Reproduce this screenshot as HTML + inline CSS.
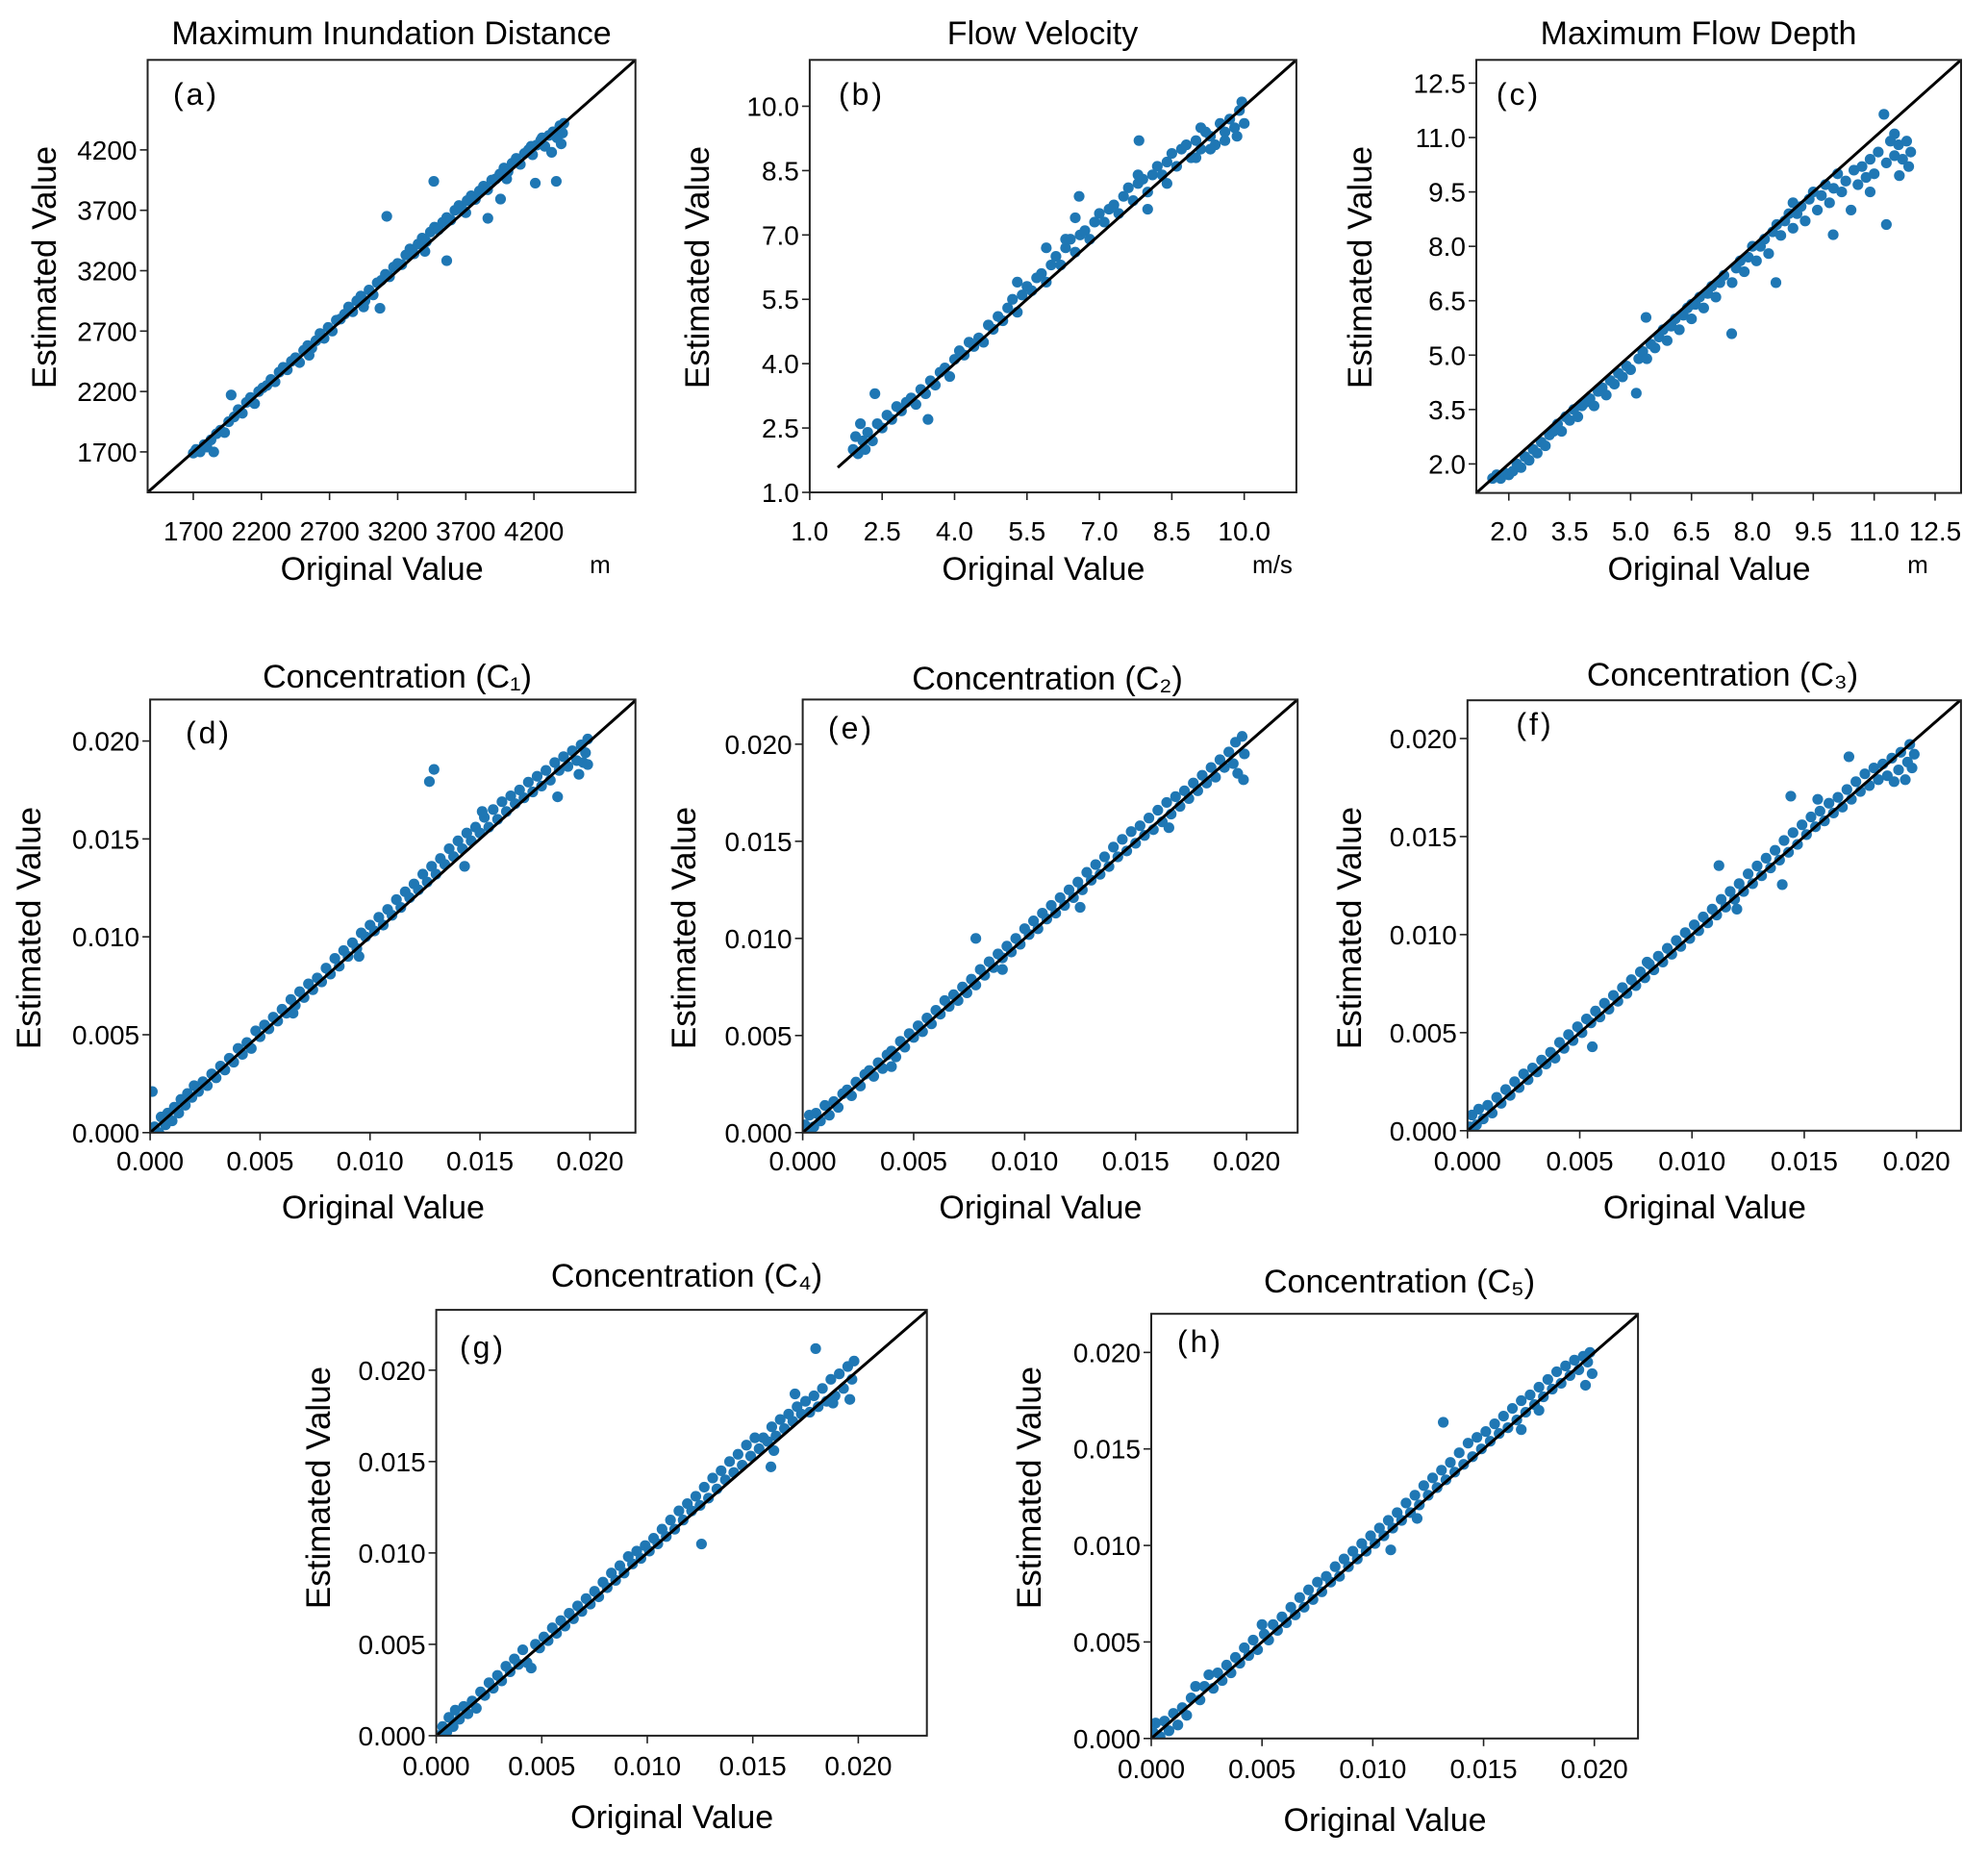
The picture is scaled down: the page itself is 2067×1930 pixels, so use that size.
<!DOCTYPE html>
<html><head><meta charset="utf-8"><style>
html,body{margin:0;padding:0;background:#fff}
svg{display:block;font-family:"Liberation Sans",Arial,sans-serif}
</style></head><body>
<svg id="fig" width="2067" height="1930" viewBox="0 0 2067 1930" xmlns="http://www.w3.org/2000/svg"></svg>
<script>
// ---- data ----
const ticksA=[1700,2200,2700,3200,3700,4200];
const ticksB=[1.0,2.5,4.0,5.5,7.0,8.5,10.0];
const ticksC=[2.0,3.5,5.0,6.5,8.0,9.5,11.0,12.5];
const ticksConc=[0,5,10,15,20];
const tickLabelsConc=["0.000","0.005","0.010","0.015","0.020"];
const ptsA=[[1700,1690],[1720,1720],[1750,1700],[1780,1760],[1800,1740],[1830,1800],[1850,1700],[1870,1850],[1900,1880],[1930,1860],[1960,1950],[1978,2171],[2000,1990],[2030,2050],[2060,2020],[2090,2110],[2120,2150],[2150,2100],[2180,2200],[2210,2230],[2240,2250],[2270,2300],[2300,2280],[2330,2360],[2360,2400],[2390,2380],[2420,2450],[2450,2480],[2480,2440],[2510,2540],[2540,2580],[2570,2560],[2600,2620],[2630,2680],[2660,2640],[2690,2730],[2720,2700],[2750,2790],[2780,2800],[2810,2840],[2840,2900],[2870,2860],[2900,2950],[2930,2990],[2960,2950],[2990,3040],[3020,3000],[3050,3100],[3070,2889],[3080,3120],[3110,3170],[3120,3650],[3140,3150],[3170,3230],[3200,3260],[3230,3250],[3260,3330],[3290,3380],[3320,3340],[3350,3420],[3380,3470],[3410,3440],[3440,3520],[3465,3940],[3470,3560],[3500,3540],[3530,3600],[3560,3283],[3560,3640],[3590,3620],[3620,3700],[3650,3740],[3680,3700],[3710,3780],[3740,3820],[3770,3790],[3800,3860],[3830,3900],[3862,3634],[3860,3870],[3890,3950],[3920,3960],[3955,3793],[3950,4000],[3980,4050],[4010,4020],[4040,4090],[4070,4130],[4100,4080],[4130,4170],[4160,4200],[4190,4160],[4210,3925],[4220,4240],[4250,4280],[4280,4230],[4310,4320],[4340,4350],[4364,3940],[4370,4300],[4390,4400],[4410,4340],[4420,4420],[4400,4250],[4330,4180],[4260,4300],[4180,4230],[4000,3960],[3700,3680],[3400,3360],[2950,2900],[2550,2500]];
const ptsB=[[1.9,2.0],[1.95,2.3],[2.0,1.9],[2.05,2.6],[2.1,2.2],[2.15,2.0],[2.2,2.4],[2.3,2.2],[2.35,3.3],[2.4,2.6],[2.5,2.5],[2.6,2.8],[2.7,2.7],[2.8,3.0],[2.9,2.9],[3.0,3.1],[3.1,3.2],[3.2,3.05],[3.3,3.4],[3.4,3.3],[3.45,2.7],[3.5,3.6],[3.6,3.5],[3.7,3.8],[3.8,3.9],[3.9,3.7],[4.0,4.1],[4.1,4.3],[4.2,4.2],[4.3,4.5],[4.4,4.4],[4.5,4.6],[4.6,4.5],[4.7,4.9],[4.8,4.8],[4.9,5.1],[5.0,5.0],[5.1,5.3],[5.2,5.5],[5.3,5.2],[5.4,5.6],[5.5,5.8],[5.6,5.7],[5.7,6.0],[5.8,6.1],[5.9,5.9],[6.0,6.3],[6.1,6.5],[6.2,6.3],[6.3,6.7],[6.4,6.9],[6.5,6.6],[6.6,7.0],[6.7,7.1],[6.8,6.9],[6.9,7.3],[7.0,7.5],[7.1,7.3],[7.2,7.6],[7.3,7.7],[7.4,7.5],[7.5,7.9],[7.6,8.1],[7.7,7.8],[7.8,8.2],[7.9,8.3],[8.0,8.0],[8.1,8.4],[8.2,8.6],[8.3,8.4],[8.4,8.7],[8.5,8.9],[8.6,8.6],[8.7,9.0],[8.8,9.1],[8.9,8.8],[9.0,9.2],[9.1,9.0],[9.2,9.4],[9.3,9.3],[9.4,9.1],[9.5,9.6],[9.6,9.4],[9.7,9.7],[9.8,9.5],[9.9,9.9],[10.0,9.6],[9.95,10.1],[9.85,9.3],[9.6,9.2],[9.3,9.0],[9.0,8.8],[7.8,8.4],[6.5,7.4],[6.3,6.9],[5.3,5.9],[8.0,7.6],[8.4,8.2],[9.1,9.5],[7.82,9.2],[6.58,7.9],[5.9,6.7]];
const ptsC=[[1.6,1.6],[1.7,1.7],[1.8,1.6],[1.9,1.75],[2.0,1.7],[2.1,1.8],[2.2,2.0],[2.3,1.9],[2.4,2.2],[2.5,2.1],[2.6,2.4],[2.7,2.3],[2.8,2.6],[2.9,2.5],[3.0,2.8],[3.1,2.9],[3.2,3.1],[3.3,2.9],[3.4,3.3],[3.5,3.2],[3.6,3.5],[3.7,3.3],[3.8,3.6],[3.9,3.7],[4.0,3.8],[4.1,3.6],[4.2,4.0],[4.3,4.1],[4.4,3.9],[4.5,4.3],[4.6,4.2],[4.7,4.5],[4.8,4.4],[4.9,4.7],[5.0,4.6],[5.14,3.95],[5.2,4.9],[5.3,5.1],[5.38,6.04],[5.4,4.9],[5.5,5.3],[5.6,5.2],[5.7,5.5],[5.8,5.7],[5.9,5.4],[6.0,5.8],[6.1,6.0],[6.2,5.7],[6.3,6.1],[6.4,6.3],[6.5,6.0],[6.6,6.4],[6.7,6.6],[6.8,6.3],[6.9,6.7],[7.0,6.9],[7.1,6.6],[7.2,7.0],[7.3,7.2],[7.49,5.59],[7.5,7.0],[7.6,7.4],[7.7,7.6],[7.8,7.3],[7.9,7.7],[8.0,8.0],[8.1,7.6],[8.2,8.0],[8.3,8.2],[8.4,7.8],[8.5,8.4],[8.58,7.0],[8.6,8.6],[8.7,8.3],[8.8,8.7],[8.9,8.9],[9.0,8.5],[9.1,8.9],[9.2,9.1],[9.3,8.7],[9.4,9.3],[9.5,9.5],[9.6,9.0],[9.7,9.4],[9.8,9.7],[9.9,9.2],[9.99,8.32],[10.0,9.6],[10.1,10.0],[10.2,9.5],[10.3,9.8],[10.43,9.0],[10.5,10.1],[10.6,9.7],[10.7,10.2],[10.8,9.9],[10.9,10.4],[11.0,10.0],[11.1,10.6],[11.24,11.64],[11.3,8.6],[11.3,10.3],[11.4,10.9],[11.5,10.5],[11.62,9.95],[11.6,10.8],[11.7,10.4],[11.8,10.9],[11.9,10.6],[11.85,10.2],[11.5,11.1],[10.9,9.5],[9.0,9.2],[6.5,6.4]];
const ptsD=[[0.1,2.1],[0.2,0.3],[0.4,0.0],[0.5,0.8],[0.7,0.4],[0.8,1.0],[1.0,0.6],[1.1,1.3],[1.3,1.0],[1.4,1.7],[1.6,1.4],[1.7,2.0],[1.9,1.8],[2.0,2.4],[2.2,2.1],[2.4,2.6],[2.6,2.4],[2.8,3.0],[3.0,2.8],[3.2,3.4],[3.4,3.2],[3.6,3.8],[3.8,3.6],[4.0,4.3],[4.2,4.0],[4.4,4.6],[4.6,4.3],[4.8,5.2],[5.0,4.9],[5.2,5.5],[5.4,5.3],[5.6,5.9],[5.8,5.7],[6.0,6.3],[6.2,6.1],[6.4,6.8],[6.6,6.5],[6.8,7.2],[7.0,6.9],[7.2,7.6],[7.4,7.3],[7.6,7.9],[7.8,7.7],[8.0,8.4],[8.2,8.1],[8.4,8.9],[8.6,8.5],[8.8,9.3],[9.0,9.0],[9.2,9.7],[9.4,9.4],[9.6,10.2],[9.8,10.0],[10.0,10.6],[10.2,10.3],[10.4,11.0],[10.6,10.6],[10.8,11.4],[11.0,11.1],[11.2,11.9],[11.4,11.5],[11.6,12.3],[11.8,12.0],[12.0,12.7],[12.2,12.4],[12.4,13.2],[12.6,12.8],[12.7,17.93],[12.91,18.55],[12.8,13.6],[13.0,13.2],[13.2,14.0],[13.4,13.7],[13.6,14.5],[13.8,14.1],[14.0,14.9],[14.2,14.5],[14.4,15.3],[14.6,14.9],[14.8,15.6],[15.0,15.3],[15.2,16.1],[15.4,15.6],[15.6,16.5],[15.8,16.0],[16.0,16.9],[16.2,16.4],[16.4,17.2],[16.6,16.8],[16.8,17.5],[17.0,17.1],[17.2,17.9],[17.4,17.4],[17.6,18.2],[17.8,17.7],[18.0,18.5],[18.2,18.0],[18.4,18.9],[18.53,17.15],[18.6,18.5],[18.8,19.2],[19.0,18.7],[19.2,19.5],[19.4,19.0],[19.5,18.3],[19.6,19.8],[19.7,18.9],[19.8,19.4],[19.9,20.1],[19.9,18.8],[15.1,16.4],[14.3,13.6],[9.5,9.0],[6.5,6.1]];
const ptsE=[[0.1,0.4],[0.2,0.0],[0.3,0.9],[0.5,0.3],[0.6,1.0],[0.8,0.6],[1.0,1.4],[1.2,0.9],[1.4,1.6],[1.6,1.3],[1.8,2.0],[2.0,2.2],[2.2,1.9],[2.4,2.6],[2.6,2.4],[2.8,3.0],[3.0,3.2],[3.2,2.9],[3.4,3.6],[3.6,3.3],[3.8,4.0],[4.0,4.2],[4.2,3.9],[4.4,4.7],[4.6,4.4],[4.8,5.1],[5.0,4.9],[5.2,5.5],[5.4,5.2],[5.6,5.9],[5.8,5.6],[6.0,6.3],[6.2,6.1],[6.4,6.8],[6.6,6.5],[6.8,7.1],[7.0,6.8],[7.2,7.5],[7.4,7.2],[7.6,7.9],[7.8,10.0],[7.8,7.6],[8.0,8.4],[8.2,8.1],[8.4,8.8],[8.6,8.5],[8.8,9.2],[9.0,9.0],[9.2,9.6],[9.4,9.3],[9.6,10.0],[9.8,9.7],[10.0,10.5],[10.2,10.2],[10.4,10.9],[10.6,10.5],[10.8,11.3],[11.0,11.0],[11.2,11.7],[11.4,11.3],[11.6,12.1],[11.8,11.7],[12.0,12.5],[12.2,12.1],[12.4,12.9],[12.6,12.5],[12.8,13.4],[13.0,13.0],[13.2,13.8],[13.4,13.3],[13.6,14.2],[13.8,13.7],[14.0,14.7],[14.2,14.2],[14.4,15.1],[14.6,14.5],[14.8,15.5],[15.0,14.9],[15.2,15.8],[15.4,15.3],[15.6,16.2],[15.8,15.6],[16.0,16.6],[16.2,16.0],[16.4,17.0],[16.6,16.4],[16.8,17.3],[17.0,16.8],[17.2,17.6],[17.4,17.2],[17.6,18.0],[17.8,17.6],[18.0,18.4],[18.2,18.0],[18.4,18.8],[18.6,18.3],[18.8,19.2],[19.0,18.8],[19.2,19.6],[19.4,19.0],[19.5,20.1],[19.6,18.5],[19.8,20.4],[19.86,18.17],[19.9,19.5],[12.5,11.6],[9.0,8.4],[4.0,3.4],[16.5,15.7]];
const ptsF=[[0.1,0.2],[0.2,0.8],[0.4,0.3],[0.5,1.1],[0.7,0.6],[0.9,1.3],[1.1,0.9],[1.3,1.7],[1.5,1.4],[1.7,2.1],[1.9,1.8],[2.1,2.5],[2.3,2.2],[2.5,2.9],[2.7,2.6],[2.9,3.2],[3.1,3.0],[3.3,3.6],[3.5,3.4],[3.7,4.0],[3.9,3.7],[4.1,4.5],[4.3,4.2],[4.5,4.9],[4.7,4.6],[4.9,5.3],[5.1,5.0],[5.3,5.7],[5.56,4.28],[5.5,5.5],[5.7,6.1],[5.9,5.8],[6.1,6.5],[6.3,6.2],[6.5,6.9],[6.7,6.6],[6.9,7.3],[7.1,7.0],[7.3,7.7],[7.5,7.4],[7.7,8.1],[7.9,7.8],[8.1,8.5],[8.3,8.2],[8.5,8.9],[8.7,8.6],[8.9,9.3],[9.1,9.0],[9.3,9.7],[9.5,9.4],[9.7,10.1],[9.9,9.8],[10.1,10.5],[10.3,10.2],[10.5,10.9],[10.7,10.6],[10.9,11.3],[11.1,11.0],[11.2,13.52],[11.3,11.8],[11.5,11.4],[11.7,12.2],[11.9,11.8],[12.1,12.6],[12.3,12.2],[12.5,13.1],[12.7,12.6],[12.9,13.5],[13.1,13.0],[13.3,13.9],[13.5,13.4],[13.7,14.3],[13.9,13.8],[14.02,12.55],[14.1,14.8],[14.3,14.2],[14.4,17.06],[14.5,15.2],[14.7,14.6],[14.9,15.6],[15.1,15.1],[15.3,16.0],[15.5,15.5],[15.7,16.3],[15.9,15.8],[16.1,16.7],[16.3,16.2],[16.5,17.0],[16.7,16.5],[16.99,19.07],[16.9,17.4],[17.1,16.9],[17.3,17.8],[17.5,17.3],[17.7,18.2],[17.9,17.6],[18.1,18.5],[18.3,17.9],[18.5,18.7],[18.7,18.1],[18.9,19.0],[19.0,17.8],[19.2,18.4],[19.3,19.3],[19.5,17.9],[19.6,18.8],[19.7,19.7],[19.8,18.5],[19.9,19.2],[8.0,8.6],[12.0,11.3],[15.6,16.9]];
const ptsG=[[0.1,0.0],[0.3,0.5],[0.5,0.2],[0.6,1.0],[0.8,0.5],[0.9,1.4],[1.1,0.9],[1.3,1.6],[1.5,1.2],[1.7,1.9],[1.9,1.5],[2.1,2.4],[2.3,2.2],[2.5,2.9],[2.7,2.6],[2.9,3.3],[3.1,3.0],[3.3,3.8],[3.5,3.5],[3.7,4.2],[3.9,3.9],[4.1,4.7],[4.3,4.0],[4.5,3.7],[4.7,5.0],[4.9,4.8],[5.1,5.4],[5.3,5.2],[5.5,5.9],[5.7,5.6],[5.9,6.3],[6.1,6.0],[6.3,6.7],[6.5,6.4],[6.7,7.1],[6.9,6.8],[7.1,7.5],[7.3,7.2],[7.5,7.9],[7.7,7.6],[7.9,8.4],[8.1,8.1],[8.3,8.9],[8.5,8.5],[8.7,9.3],[8.9,8.9],[9.1,9.8],[9.3,9.4],[9.5,10.1],[9.7,9.7],[9.9,10.4],[10.1,10.1],[10.3,10.8],[10.5,10.5],[10.7,11.3],[10.9,10.9],[11.1,11.8],[11.3,11.3],[11.5,12.3],[11.7,11.8],[11.9,12.7],[12.1,12.3],[12.3,13.1],[12.57,10.49],[12.5,12.6],[12.7,13.6],[12.9,13.0],[13.1,14.1],[13.3,13.5],[13.5,14.5],[13.7,14.0],[13.9,15.0],[14.1,14.4],[14.3,15.4],[14.5,14.8],[14.7,15.9],[14.9,15.3],[15.1,16.3],[15.3,15.7],[15.5,16.3],[15.86,14.71],[15.7,16.1],[15.9,16.9],[16.1,16.4],[16.3,17.3],[16.5,16.8],[16.7,17.6],[16.9,17.2],[17.1,18.0],[17.3,17.6],[17.5,18.3],[17.7,17.7],[17.98,21.18],[17.9,18.6],[18.1,18.0],[18.3,19.0],[18.5,18.3],[18.7,19.5],[18.9,18.6],[19.1,19.8],[19.3,19.0],[19.5,20.2],[19.6,18.4],[19.7,19.5],[19.8,20.5],[16.0,15.6],[17.0,18.7],[18.8,18.2]];
const ptsH=[[0.1,0.3],[0.2,0.8],[0.4,0.1],[0.6,0.9],[0.8,0.4],[1.0,1.3],[1.2,0.7],[1.4,1.6],[1.6,1.2],[1.8,2.1],[2.0,2.7],[2.2,2.0],[2.4,2.7],[2.6,3.3],[2.8,2.6],[3.0,3.4],[3.2,3.0],[3.4,3.8],[3.6,3.4],[3.8,4.2],[4.0,3.9],[4.2,4.7],[4.4,4.3],[4.6,5.1],[4.8,4.6],[5.0,5.9],[5.1,5.4],[5.3,5.1],[5.5,5.9],[5.7,5.6],[5.9,6.3],[6.1,6.0],[6.3,6.8],[6.5,6.4],[6.7,7.3],[6.9,6.8],[7.1,7.7],[7.3,7.2],[7.5,8.1],[7.7,7.6],[7.9,8.4],[8.1,8.1],[8.3,8.9],[8.5,8.4],[8.7,9.3],[8.9,8.9],[9.1,9.7],[9.3,9.3],[9.5,10.1],[9.7,9.7],[9.9,10.5],[10.1,10.1],[10.3,10.9],[10.5,10.5],[10.81,9.77],[10.7,11.3],[10.9,10.9],[11.1,11.7],[11.3,11.3],[11.5,12.2],[11.7,11.7],[11.9,12.6],[12.1,12.1],[12.3,13.1],[12.5,12.6],[12.7,13.5],[12.9,13.0],[13.18,16.38],[13.1,13.9],[13.3,13.4],[13.5,14.3],[13.7,13.8],[13.9,14.8],[14.1,14.2],[14.3,15.3],[14.5,14.6],[14.7,15.6],[14.9,15.0],[15.1,15.9],[15.3,15.4],[15.5,16.3],[15.7,15.8],[15.9,16.7],[16.1,16.1],[16.3,17.1],[16.5,16.5],[16.7,17.5],[16.9,16.9],[17.1,17.8],[17.3,17.3],[17.5,18.2],[17.7,17.7],[17.9,18.6],[18.1,18.1],[18.3,19.0],[18.5,18.4],[18.7,19.3],[18.9,18.8],[19.1,19.6],[19.3,19.1],[19.5,19.8],[19.6,18.3],[19.7,19.5],[19.8,20.0],[19.9,18.9],[16.7,16.0],[17.5,17.0],[12.0,11.4]];
const lineStartB=1.58;

// ---- layout ----
const NS="http://www.w3.org/2000/svg";
const svg=document.getElementById('fig');
function mk(tag,attrs,parent){const e=document.createElementNS(NS,tag);for(const k in attrs)e.setAttribute(k,attrs[k]);(parent||svg).appendChild(e);return e;}
const panels=[
 {id:'a',title:'Maximum Inundation Distance',tx:407,ty:46,L:153.5,R:660.7,T:62.3,B:512,dx:[1365,4945],dy:[1365,4945],ticks:ticksA,labs:ticksA.map(String),pts:ptsA,ls:1365,unit:'m',ux:624,uy:596,tly:562,oly:603,ylx:46,yly:278,lx:204,ly:107},
 {id:'b',title:'Flow Velocity',tx:1084,ty:46,L:841.9,R:1347.9,T:62.3,B:512,dx:[1.0,11.08],dy:[1.0,11.08],ticks:ticksB,labs:ticksB.map(v=>v.toFixed(1)),pts:ptsB,ls:lineStartB,unit:'m/s',ux:1323,uy:596,tly:562,oly:603,ylx:725,yly:278,lx:896,ly:107},
 {id:'c',title:'Maximum Flow Depth',tx:1766,ty:46,L:1535,R:2039,T:62.3,B:512.6,dx:[1.2,13.14],dy:[1.2,13.14],ticks:ticksC,labs:ticksC.map(v=>v.toFixed(1)),pts:ptsC,ls:1.2,unit:'m',ux:1994,uy:596,tly:562,oly:603,ylx:1414,yly:278,lx:1579,ly:107},
 {id:'d',title:'Concentration (C\u2081)',tx:413,ty:715,L:156.1,R:660.7,T:727.4,B:1177.8,dx:[0,22.07],dy:[0,22.12],ticks:ticksConc,labs:tickLabelsConc,pts:ptsD,ls:0,tly:1217,oly:1267,ylx:30,yly:965,lx:217,ly:771},
 {id:'e',title:'Concentration (C\u2082)',tx:1089,ty:717,L:834.6,R:1349.2,T:727.4,B:1177.8,dx:[0,22.3],dy:[0,22.3],ticks:ticksConc,labs:tickLabelsConc,pts:ptsE,ls:0,tly:1217,oly:1267,ylx:711,yly:965,lx:885,ly:766},
 {id:'f',title:'Concentration (C\u2083)',tx:1791,ty:713,L:1525.8,R:2038.9,T:728.2,B:1175.8,dx:[0,21.98],dy:[0,21.95],ticks:ticksConc,labs:tickLabelsConc,pts:ptsF,ls:0,tly:1217,oly:1267,ylx:1403,yly:965,lx:1596,ly:762},
 {id:'g',title:'Concentration (C\u2084)',tx:714,ty:1338,L:453.6,R:963.7,T:1362.1,B:1804.9,dx:[0,23.25],dy:[0,23.3],ticks:ticksConc,labs:tickLabelsConc,pts:ptsG,ls:0,tly:1846,oly:1901,ylx:331,yly:1547,lx:502,ly:1410},
 {id:'h',title:'Concentration (C\u2085)',tx:1455,ty:1344,L:1197,R:1703.1,T:1366.2,B:1807.8,dx:[0,21.97],dy:[0,22.0],ticks:ticksConc,labs:tickLabelsConc,pts:ptsH,ls:0,tly:1849,oly:1904,ylx:1070,yly:1547,lx:1248,ly:1404}
];
panels.forEach(p=>{
  const g=mk('g',{});
  
  
  const sx=v=>p.L+(v-p.dx[0])/(p.dx[1]-p.dx[0])*(p.R-p.L);
  const sy=v=>p.B-(v-p.dy[0])/(p.dy[1]-p.dy[0])*(p.B-p.T);
  const clipId='clip'+p.id;
  const cp=mk('clipPath',{id:clipId},g);
  mk('rect',{x:p.L,y:p.T,width:p.R-p.L,height:p.B-p.T},cp);
  const dots=mk('g',{'clip-path':'url(#'+clipId+')'},g);
  
  
  p.pts.forEach(pt=>{
    const c=mk('circle',{cx:sx(pt[0]),cy:sy(pt[1]),r:5.6,fill:'#1f77b4'},dots);
    
    
  });
  const lineEnd=p.dx[1];
  const ln=mk('line',{x1:sx(p.ls),y1:sy(p.ls),x2:sx(lineEnd),y2:sy(lineEnd),stroke:'#000','stroke-width':3,'clip-path':'url(#'+clipId+')'},g);
  
  
  const fr=mk('rect',{x:p.L,y:p.T,width:p.R-p.L,height:p.B-p.T,fill:'none',stroke:'#222','stroke-width':2},g);
  
  
  p.ticks.forEach((t,i)=>{
    const x=sx(t), y=sy(t);
    mk('line',{x1:x,y1:p.B,x2:x,y2:p.B+8,stroke:'#222','stroke-width':1.6},g);
    const xl=mk('text',{x:x,y:p.tly,'text-anchor':'middle','font-size':28,fill:'#000'},g);
    xl.textContent=p.labs[i];
    
    
    mk('line',{x1:p.L-8,y1:y,x2:p.L,y2:y,stroke:'#222','stroke-width':1.6},g);
    const yl=mk('text',{x:p.L-11,y:y+10,'text-anchor':'end','font-size':28,fill:'#000'},g);
    yl.textContent=p.labs[i];
    
    
  });
  const ti=mk('text',{x:p.tx,y:p.ty,'text-anchor':'middle','font-size':34,fill:'#000'},g);
  ti.textContent=p.title;
  
  
  const xt=mk('text',{x:(p.L+p.R)/2-10,y:p.oly,'text-anchor':'middle','font-size':34,fill:'#000'},g);
  xt.textContent='Original Value';
  
  
  const yt=mk('text',{x:0,y:0,'text-anchor':'middle','font-size':35,fill:'#000',transform:'translate('+(p.ylx+12)+','+p.yly+') rotate(-90)'},g);
  yt.textContent='Estimated Value';
  
  
  const pl=mk('text',{x:p.lx,y:p.ly+2,'text-anchor':'middle','font-size':32,fill:'#000','letter-spacing':3},g);
  pl.textContent='('+p.id+')';
  
  
  if(p.unit){
    const u=mk('text',{x:p.ux,y:p.uy,'text-anchor':'middle','font-size':26,fill:'#000'},g);
    u.textContent=p.unit;
    
    
  }
});
</script>
</body></html>
